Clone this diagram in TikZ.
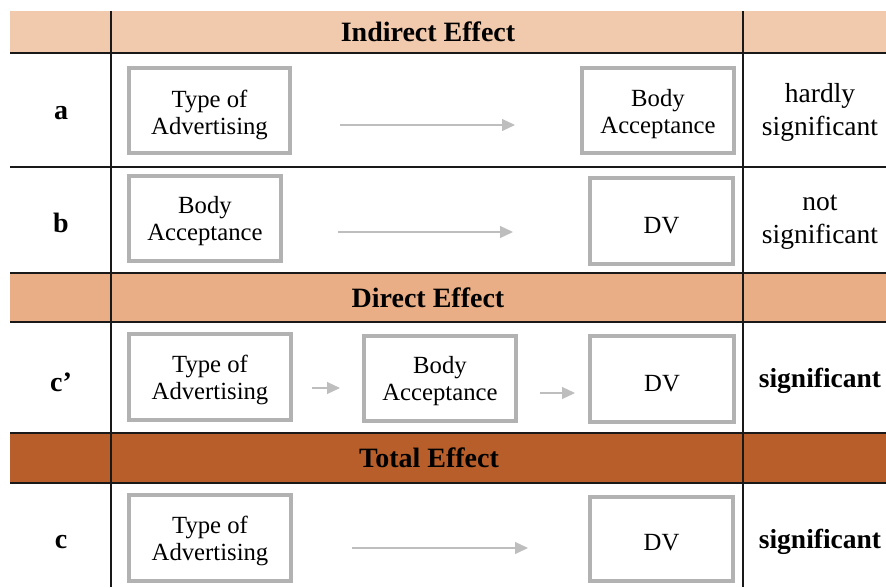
\documentclass[tikz,border=0pt]{standalone}
\usepackage{fontspec}
\setmainfont{Liberation Serif}
\usetikzlibrary{arrows.meta}
\definecolor{hdrA}{RGB}{241,201,173}
\definecolor{hdrB}{RGB}{234,174,134}
\definecolor{hdrC}{RGB}{183,94,42}
\definecolor{boxgray}{RGB}{178,178,178}
\definecolor{arrgray}{RGB}{190,190,190}
\definecolor{rule}{RGB}{25,25,25}
\tikzset{
  x=1pt,y=-1pt,
  varbox/.style={draw=boxgray,line width=4pt,fill=white,inner sep=0pt},
  boxtext/.style={align=center,inner sep=0pt,font=\fontsize{24.7}{27}\selectfont},
  flow/.style={draw=arrgray,line width=1.2pt,-{Triangle[length=13pt,width=12pt]}},
  tabrule/.style={draw=rule,line width=1.8pt},
  hdrtext/.style={font=\bfseries\fontsize{28}{30}\selectfont},
  rowlabel/.style={font=\bfseries\fontsize{28}{30}\selectfont},
  sigtext/.style={align=center,font=\fontsize{27.5}{33}\selectfont},
  sigbold/.style={align=center,font=\bfseries\fontsize{27.5}{33}\selectfont},
}
\begin{document}
\begin{tikzpicture}
\useasboundingbox (0,0) rectangle (886,587);
% header fills
\fill[hdrA] (10,11) rectangle (886,53);
\fill[hdrB] (10,273) rectangle (886,322);
\fill[hdrC] (10,433) rectangle (886,483);
% table rules
\foreach \yy in {53,167,273,322,433,483}{\draw[tabrule] (10,\yy) -- (886,\yy);}
\draw[tabrule] (111,11) -- (111,587);
\draw[tabrule] (743,11) -- (743,587);
% headers
\node[hdrtext] (h1) at (428,32) {Indirect Effect};
\node[hdrtext] (h2) at (428,298) {Direct Effect};
\node[hdrtext] (h3) at (429,458) {Total Effect};
% row labels
\node[rowlabel] (la) at (61,113) {a};
\node[rowlabel] (lb) at (61,223) {b};
\node[rowlabel] (lc1) at (61,382) {c’};
\node[rowlabel] (lc) at (61,542) {c};
% significance
\node[sigtext] (sa) at (820,112) {hardly\\significant};
\node[sigtext] (sb) at (820,222) {not\\significant};
\node[sigbold] (sc1) at (820,381) {significant};
\node[sigbold] (sc) at (820,542) {significant};
% row a
\node[varbox,minimum width=161pt,minimum height=85pt] (a1) at (209.5,110.5) {};
\node[boxtext] (a1t) at (209.5,114.5) {Type of\\Advertising};
\node[varbox,minimum width=152pt,minimum height=85pt] (a2) at (658,110.5) {};
\node[boxtext] (a2t) at (658,114.5) {Body\\Acceptance};
\coordinate (a1s) at (340,125); \coordinate (a2e) at (515,125);
\draw[flow] (a1s) -- (a2e);
% row b
\node[varbox,minimum width=152pt,minimum height=85pt] (b1) at (205,218.5) {};
\node[boxtext] (b1t) at (205,221.5) {Body\\Acceptance};
\node[varbox,minimum width=143pt,minimum height=86pt] (b2) at (661.5,221) {};
\node[boxtext] (b2t) at (661.5,226) {DV};
\coordinate (b1s) at (338,232); \coordinate (b2e) at (513,232);
\draw[flow] (b1s) -- (b2e);
% row c'
\node[varbox,minimum width=162pt,minimum height=86pt] (d1) at (210,377) {};
\node[boxtext] (d1t) at (210,380) {Type of\\Advertising};
\node[varbox,minimum width=152pt,minimum height=85pt] (d2) at (440,378.5) {};
\node[boxtext] (d2t) at (440,381.5) {Body\\Acceptance};
\node[varbox,minimum width=144pt,minimum height=86pt] (d3) at (662,379) {};
\node[boxtext] (d3t) at (662,384) {DV};
\coordinate (d1s) at (312,388); \coordinate (d1e) at (340,388);
\coordinate (d2s) at (540,393); \coordinate (d2e) at (575,393);
\draw[flow] (d1s) -- (d1e);
\draw[flow] (d2s) -- (d2e);
% row c
\node[varbox,minimum width=162pt,minimum height=86pt] (c1) at (210,538) {};
\node[boxtext] (c1t) at (210,541) {Type of\\Advertising};
\node[varbox,minimum width=143pt,minimum height=84pt] (c2) at (661.5,539) {};
\node[boxtext] (c2t) at (661.5,543) {DV};
\coordinate (c1s) at (352,548); \coordinate (c2e) at (528,548);
\draw[flow] (c1s) -- (c2e);
\end{tikzpicture}
\end{document}
